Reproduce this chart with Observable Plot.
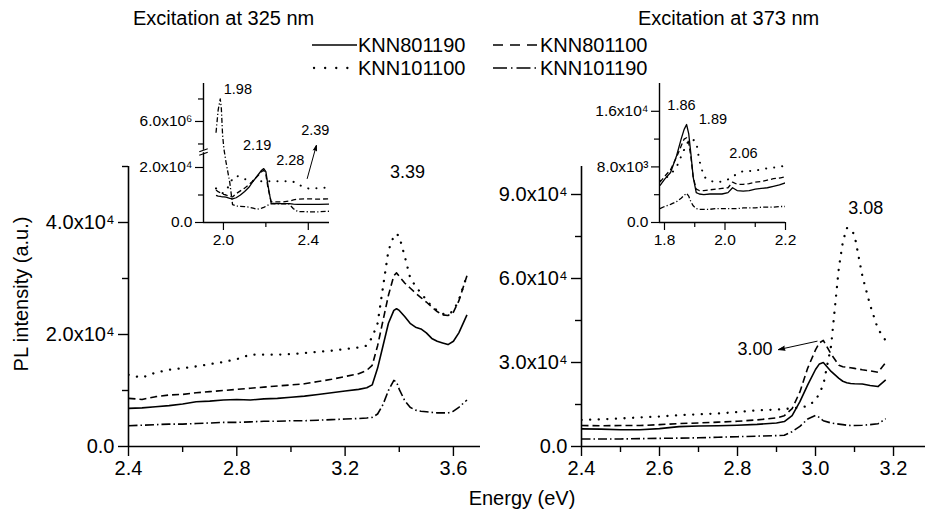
<!DOCTYPE html>
<html><head><meta charset="utf-8">
<script src="https://cdn.jsdelivr.net/npm/d3@7"></script>
<script src="https://cdn.jsdelivr.net/npm/@observablehq/plot@0.6"></script>
<style>
body{margin:0;background:#fff;}
#chart{position:relative;width:925px;height:510px;font-family:"Liberation Sans",Arial,Helvetica,sans-serif;color:#000;overflow:hidden;background:#fff}
.abs{position:absolute;white-space:nowrap;line-height:1;}
</style></head><body><div id="chart"></div>
<script>
// ---------- data (intensities in units of 10^3 a.u.) ----------
const series = ["KNN801190", "KNN801100", "KNN101100", "KNN101190"];

// Main panel, excitation at 325 nm
const E325 = [2.40,2.45,2.50,2.55,2.60,2.65,2.70,2.75,2.80,2.85,2.90,2.95,3.00,3.05,3.10,3.15,3.20,3.25,3.28,3.30,3.32,3.34,3.36,3.38,3.39,3.40,3.42,3.44,3.46,3.48,3.50,3.52,3.54,3.56,3.58,3.60,3.62,3.65];
const KNN801190_325 = [6.8,6.9,7.1,7.3,7.6,8.0,8.1,8.3,8.4,8.3,8.5,8.6,8.8,9.0,9.3,9.6,9.9,10.2,10.5,11.0,14.0,18.0,22.0,24.3,24.6,24.3,23.2,22.0,21.3,21.0,20.3,19.3,18.8,18.5,18.2,18.8,20.3,23.5];
const KNN801100_325 = [8.6,8.4,8.9,9.2,9.3,9.6,9.8,10.0,10.2,10.4,10.6,10.8,11.0,11.2,11.6,12.0,12.5,13.0,13.6,14.5,18.0,22.5,27.0,30.5,31.0,30.4,29.2,28.3,27.4,26.6,25.8,24.9,24.1,23.5,23.4,24.0,26.0,30.5];
const KNN101100_325 = [12.8,12.3,13.2,13.7,14.0,14.3,14.7,15.1,15.6,16.4,16.4,16.4,16.5,16.7,16.9,17.1,17.4,17.7,18.0,19.5,22.0,28.5,35.0,37.6,38.0,37.5,34.0,30.2,28.6,27.4,26.2,25.0,24.3,23.7,23.6,24.2,26.2,30.5];
const KNN101190_325 = [3.7,3.8,3.9,4.0,4.0,4.1,4.2,4.3,4.3,4.4,4.5,4.5,4.6,4.6,4.7,4.8,4.9,5.0,5.1,5.2,5.8,7.5,10.0,11.8,11.5,10.2,8.2,7.0,6.5,6.3,6.2,6.1,6.0,6.0,6.0,6.3,7.0,8.3];

// Main panel, excitation at 373 nm
const E373 = [2.40,2.45,2.50,2.55,2.60,2.65,2.70,2.75,2.80,2.85,2.90,2.92,2.94,2.96,2.98,3.00,3.01,3.02,3.04,3.06,3.07,3.08,3.09,3.10,3.12,3.14,3.16,3.18];
const KNN801190_373 = [6.3,6.2,6.0,6.0,6.4,7.1,7.3,7.4,7.6,7.9,8.4,8.9,11.0,16.0,22.0,27.5,29.5,30.0,26.8,24.3,23.3,22.8,22.5,22.4,22.3,21.8,21.4,23.8];
const KNN801100_373 = [7.5,7.4,7.5,7.5,7.8,8.2,8.4,8.7,9.0,9.5,10.2,11.0,13.5,19.5,28.0,34.5,37.0,37.9,33.0,29.0,28.5,28.3,28.1,27.9,27.4,27.0,26.5,30.0];
const KNN101100_373 = [9.5,9.7,10.0,10.4,10.7,11.2,11.5,11.8,12.3,12.9,13.2,13.4,13.6,14.0,14.4,16.5,19.0,22.0,36.0,64.0,73.0,78.0,77.8,75.5,61.0,50.5,42.0,37.8];
const KNN101190_373 = [2.7,2.7,2.7,2.8,2.9,3.0,3.1,3.3,3.5,3.7,3.9,4.0,5.3,7.2,9.8,11.1,10.4,9.2,8.4,8.0,7.8,7.6,7.5,7.5,7.6,7.8,8.1,9.9];

// Inset, excitation at 325 nm (broken y axis)
const Eins325 = [1.965,1.975,1.985,1.99,1.996,2.002,2.012,2.03,2.043,2.06,2.08,2.10,2.12,2.14,2.16,2.18,2.19,2.20,2.21,2.225,2.25,2.28,2.31,2.33,2.35,2.40,2.45,2.50];
const ins_KNN801190_325 = [9.9,9.6,9.5,9.4,9.3,9.3,9.2,8.8,8.6,9.0,10.0,11.3,12.8,15.0,17.0,19.0,19.6,18.5,13.5,7.0,6.9,6.9,6.9,6.7,6.6,6.6,6.6,6.7];
const ins_KNN801100_325 = [11.8,11.2,10.8,10.6,10.4,10.2,10.0,9.4,9.3,10.5,11.5,12.5,13.8,15.2,16.8,18.5,19.0,17.5,12.5,7.6,7.5,7.5,7.8,8.2,8.5,8.6,8.5,8.6];
const ins_KNN101100_325 = [12.4,11.8,11.2,10.9,10.7,10.8,11.5,14.0,16.0,17.0,16.5,15.8,15.4,15.2,15.0,15.0,15.0,15.0,15.0,15.0,15.0,15.0,15.0,14.8,13.8,12.4,12.5,12.8];
const ins_KNN101190_325 = [5500,6500,7000,6600,5400,4800,22,14.5,6.5,6.0,5.9,5.8,5.6,5.2,4.8,5.2,5.5,5.9,6.3,6.8,6.8,6.8,6.7,5.0,4.0,3.9,3.9,4.1];

// Inset, excitation at 373 nm
const Eins373 = [1.785,1.80,1.82,1.84,1.855,1.865,1.873,1.88,1.887,1.895,1.905,1.915,1.93,1.95,1.97,1.99,2.01,2.025,2.04,2.06,2.08,2.10,2.12,2.14,2.16,2.18,2.20];
const ins_KNN801190_373 = [5.3,6.2,7.2,9.6,12.0,13.4,14.1,12.8,10.0,6.5,4.3,4.1,4.0,4.1,4.1,4.1,4.3,5.0,4.6,4.5,4.6,4.8,4.9,5.0,5.2,5.4,5.7];
const ins_KNN801100_373 = [5.8,6.6,7.6,9.4,11.0,12.0,12.2,11.5,9.5,6.5,4.8,4.6,4.6,4.7,4.8,4.9,5.0,5.8,5.5,5.5,5.6,5.8,5.9,6.1,6.3,6.4,6.6];
const ins_KNN101100_373 = [6.0,6.3,6.9,8.0,9.5,10.5,11.2,11.8,12.0,11.9,11.6,9.0,6.6,6.0,5.8,5.9,6.2,6.6,7.0,7.4,7.4,7.5,7.6,7.8,7.9,8.0,8.2];
const ins_KNN101190_373 = [2.0,2.3,2.6,3.0,3.5,3.9,4.2,3.8,3.0,2.4,2.0,1.9,1.9,1.9,2.0,2.0,2.0,2.0,2.0,2.1,2.1,2.1,2.2,2.2,2.2,2.3,2.3];
const unit = 1e3;

// tick values
const xMaj325 = [2.4, 2.8, 3.2, 3.6], xMin325 = [2.6, 3.0, 3.4];
const yMaj325 = [0, 2e4, 4e4], yMin325 = [1e4, 3e4, 5e4];
const xMaj373 = [2.4, 2.6, 2.8, 3.0, 3.2], xMin373 = [2.5, 2.7, 2.9, 3.1];
const yMaj373 = [0, 3e4, 6e4, 9e4], yMin373 = [1.5e4, 4.5e4, 7.5e4];
const xMajIns325 = [2.0, 2.4], xMinIns325 = [2.2];
const yMajIns325 = [0, 2e4, 6e6], yMinIns325 = [1e4, 5e6, 7e6];
const xMajIns373 = [1.8, 2.0, 2.2], xMinIns373 = [1.9, 2.1];
const yMajIns373 = [0, 8e3, 1.6e4], yMinIns373 = [4e3, 1.2e4];

// peak annotations
const peaks325 = [{t: "3.39", E: 3.43, I: 48.9e3}];
const peaks373 = [{t: "3.08", E: 3.129, I: 85e3}, {t: "3.00", E: 2.845, I: 34.6e3}];
const arrow373 = [{x1: 3.004, y1: 37.6e3, x2: 2.905, y2: 34.6e3}];
const peaksIns373 = [{t: "1.86", E: 1.856, I: 16.9e3}, {t: "1.89", E: 1.96, I: 14.9e3}, {t: "2.06", E: 2.061, I: 10.0e3}];

// ---------- helpers ----------
const FONT = '"Liberation Sans", Arial, Helvetica, sans-serif';
const chart = document.getElementById("chart");
const SUP = {"0":"⁰","1":"¹","2":"²","3":"³","4":"⁴","5":"⁵","6":"⁶","7":"⁷","8":"⁸","9":"⁹"};
function sci(v) {
  if (v === 0) return "0.0";
  const e = Math.floor(Math.log10(Math.abs(v)) + 1e-9);
  return (v / 10 ** e).toFixed(1) + "x10" + SUP[e];
}
// broken y axis for the 325 nm inset: lower segment 0..2.545e4, upper segment 4.71e6..7.69e6
function yBroken(v) { return v <= 3e4 ? v / 2e4 * 55 : 72 + (v - 4.71e6) / 1e6 * 22.5; }
const brk = 71;

const mainStyle = {
  KNN801190: {w: 1.6},
  KNN801100: {dash: "7,4", w: 1.6},
  KNN101100: {dash: "0.1,8.5", w: 2.3, cap: "round"},
  KNN101190: {dash: "9,3,1.5,3", w: 1.6}
};
const insetStyle = {
  KNN801190: {w: 1.3},
  KNN801100: {dash: "5,3", w: 1.3},
  KNN101100: {dash: "0.1,8", w: 2.0, cap: "round"},
  KNN101190: {dash: "5,2.2,1.2,2.2", w: 1.3}
};

function rowsFor(E, arrays, f = v => v) {
  const rows = [];
  series.forEach((name, k) => arrays[k].forEach((v, i) => rows.push({E: E[i], I: f(v * unit), name})));
  return rows;
}

function panel(o) {
  const rows = rowsFor(o.E, o.S, o.yT);
  const yt = o.yT || (v => v);
  const fmtMap = new Map(o.yMaj.map(v => [yt(v), sci(v)]));
  const marks = [
    Plot.ruleY([o.y[0]], {stroke: "black", strokeWidth: o.axisW}),
    Plot.ruleX([o.x[0]], {stroke: "black", strokeWidth: o.axisW}),
    Plot.axisX({ticks: o.xMaj, tickSize: o.tMaj, tickPadding: o.tPad, tickFormat: d3.format(".1f"), fontSize: o.fs, label: null, strokeWidth: o.tickW}),
    Plot.axisX({ticks: o.xMin, tickSize: o.tMin, tickFormat: () => "", label: null, strokeWidth: o.tickW}),
    Plot.axisY({ticks: o.yMaj.map(yt), tickSize: o.tMaj, tickPadding: o.tPad, tickFormat: d => fmtMap.get(d), fontSize: o.fs, label: null, strokeWidth: o.tickW}),
    Plot.axisY({ticks: o.yMin.map(yt), tickSize: o.tMin, tickFormat: () => "", label: null, strokeWidth: o.tickW})
  ];
  for (const name of series) {
    const st = o.styles[name];
    marks.push(Plot.line(rows.filter(r => r.name === name), {
      x: "E", y: "I", stroke: "black", strokeWidth: st.w,
      strokeDasharray: st.dash, strokeLinecap: st.cap || "butt", strokeLinejoin: "round", clip: true
    }));
  }
  if (o.extra) marks.push(...o.extra);
  const svg = Plot.plot({
    width: o.w, height: o.h,
    marginLeft: o.ml, marginRight: o.mr, marginTop: o.mt, marginBottom: o.mb,
    x: {domain: o.x, label: null}, y: {domain: o.y, label: null},
    style: {background: "transparent", fontFamily: FONT, color: "black", overflow: "visible"},
    marks
  });
  svg.style.position = "absolute";
  svg.style.left = o.left + "px";
  svg.style.top = o.top + "px";
  chart.appendChild(svg);
}

// ---------- main panels ----------
panel({
  left: 0, top: 150, w: 490, h: 345, ml: 128, mr: 10, mt: 16, mb: 49,
  E: E325, S: [KNN801190_325, KNN801100_325, KNN101100_325, KNN101190_325],
  x: [2.4, 3.7], y: [0, 5e4],
  xMaj: xMaj325, xMin: xMin325, yMaj: yMaj325, yMin: yMin325,
  fs: 20, tMaj: 10, tMin: 6, tPad: 4, axisW: 1.6, tickW: 1.4, styles: mainStyle,
  extra: [Plot.text(peaks325, {x: "E", y: "I", text: "t", fontSize: 18})]
});
panel({
  left: 470, top: 150, w: 455, h: 345, ml: 111, mr: 0, mt: 16, mb: 49,
  E: E373, S: [KNN801190_373, KNN801100_373, KNN101100_373, KNN101190_373],
  x: [2.4, 3.282], y: [0, 1e5],
  xMaj: xMaj373, xMin: xMin373, yMaj: yMaj373, yMin: yMin373,
  fs: 20, tMaj: 10, tMin: 6, tPad: 4, axisW: 1.6, tickW: 1.4, styles: mainStyle,
  extra: [
    Plot.text(peaks373, {x: "E", y: "I", text: "t", fontSize: 18}),
    Plot.arrow(arrow373, {x1: "x1", y1: "y1", x2: "x2", y2: "y2", headLength: 10, headAngle: 35, strokeWidth: 1, stroke: "black", fill: "black"})
  ]
});

// ---------- insets ----------
const x0ins = 1.906;
const peaksIns325 = [
  {t: "1.98", E: 2.068, I: 133}, {t: "2.19", E: 2.159, I: 77},
  {t: "2.28", E: 2.315, I: 62}, {t: "2.39", E: 2.433, I: 92}
];
const arrowIns325 = [{x1: 2.395, y1: 44, x2: 2.438, y2: 77}];
const breakMarks = [-2.2, 1.2].map(d => ({x1: x0ins - 0.02, x2: x0ins + 0.02, y1: brk + d - 1.5, y2: brk + d + 1.5}));
panel({
  left: 120, top: 75, w: 215, h: 180, ml: 83, mr: 6, mt: 8, mb: 33,
  E: Eins325, S: [ins_KNN801190_325, ins_KNN801100_325, ins_KNN101100_325, ins_KNN101190_325],
  yT: yBroken, x: [x0ins, 2.5], y: [0, 139],
  xMaj: xMajIns325, xMin: xMinIns325, yMaj: yMajIns325, yMin: yMinIns325,
  fs: 15.5, tMaj: 8, tMin: 5, tPad: 3, axisW: 1.4, tickW: 1.2, styles: insetStyle,
  extra: [
    Plot.ruleX([x0ins], {y1: brk - 1.2, y2: brk + 1.2, stroke: "white", strokeWidth: 4}),
    Plot.link(breakMarks, {x1: "x1", x2: "x2", y1: "y1", y2: "y2", stroke: "black", strokeWidth: 1.2, clip: false}),
    Plot.text(peaksIns325, {x: "E", y: "I", text: "t", fontSize: 14.5}),
    Plot.arrow(arrowIns325, {x1: "x1", y1: "y1", x2: "x2", y2: "y2", headLength: 8, headAngle: 35, strokeWidth: 1, stroke: "black", fill: "black"})
  ]
});
panel({
  left: 580, top: 75, w: 215, h: 180, ml: 79, mr: 10, mt: 8, mb: 33,
  E: Eins373, S: [ins_KNN801190_373, ins_KNN801100_373, ins_KNN101100_373, ins_KNN101190_373],
  x: [1.7835, 2.2], y: [0, 2e4],
  xMaj: xMajIns373, xMin: xMinIns373, yMaj: yMajIns373, yMin: yMinIns373,
  fs: 15.5, tMaj: 8, tMin: 5, tPad: 3, axisW: 1.4, tickW: 1.2, styles: insetStyle,
  extra: [Plot.text(peaksIns373, {x: "E", y: "I", text: "t", fontSize: 14.5})]
});

// ---------- titles, axis labels, legend ----------
function label(text, css) {
  const d = document.createElement("div");
  d.className = "abs";
  d.textContent = text;
  Object.assign(d.style, css);
  chart.appendChild(d);
  return d;
}
label("Excitation at 325 nm", {left: "133px", top: "8px", fontSize: "20px"});
label("Excitation at 373 nm", {left: "638px", top: "8px", fontSize: "20px"});
label("Energy (eV)", {left: "522px", top: "488px", fontSize: "20px", transform: "translateX(-50%)"});
label("PL intensity (a.u.)", {left: "21px", top: "294px", fontSize: "20px", transform: "translate(-50%,-50%) rotate(-90deg)"});

const legendItems = [
  {name: "KNN801190", lx: 312, lw: 45, row: 45, tx: 358, dash: null, w: 1.6},
  {name: "KNN801100", lx: 493, lw: 45, row: 45, tx: 540, dash: "10,7", w: 1.6},
  {name: "KNN101100", lx: 314, lw: 36, row: 68, tx: 358, dash: "0.1,11", w: 2.3, cap: "round"},
  {name: "KNN101190", lx: 493, lw: 43, row: 68, tx: 540, dash: "14,4,1.5,4", w: 1.6}
];
const lsvg = d3.create("svg").attr("width", 925).attr("height", 90)
  .style("position", "absolute").style("left", "0px").style("top", "0px").style("overflow", "visible");
for (const it of legendItems) {
  lsvg.append("line").attr("x1", it.lx).attr("x2", it.lx + it.lw).attr("y1", it.row).attr("y2", it.row)
    .attr("stroke", "black").attr("stroke-width", it.w)
    .attr("stroke-dasharray", it.dash).attr("stroke-linecap", it.cap || "butt");
  label(it.name, {left: it.tx + "px", top: (it.row - 10) + "px", fontSize: "20px"});
}
chart.appendChild(lsvg.node());
</script></body></html>
